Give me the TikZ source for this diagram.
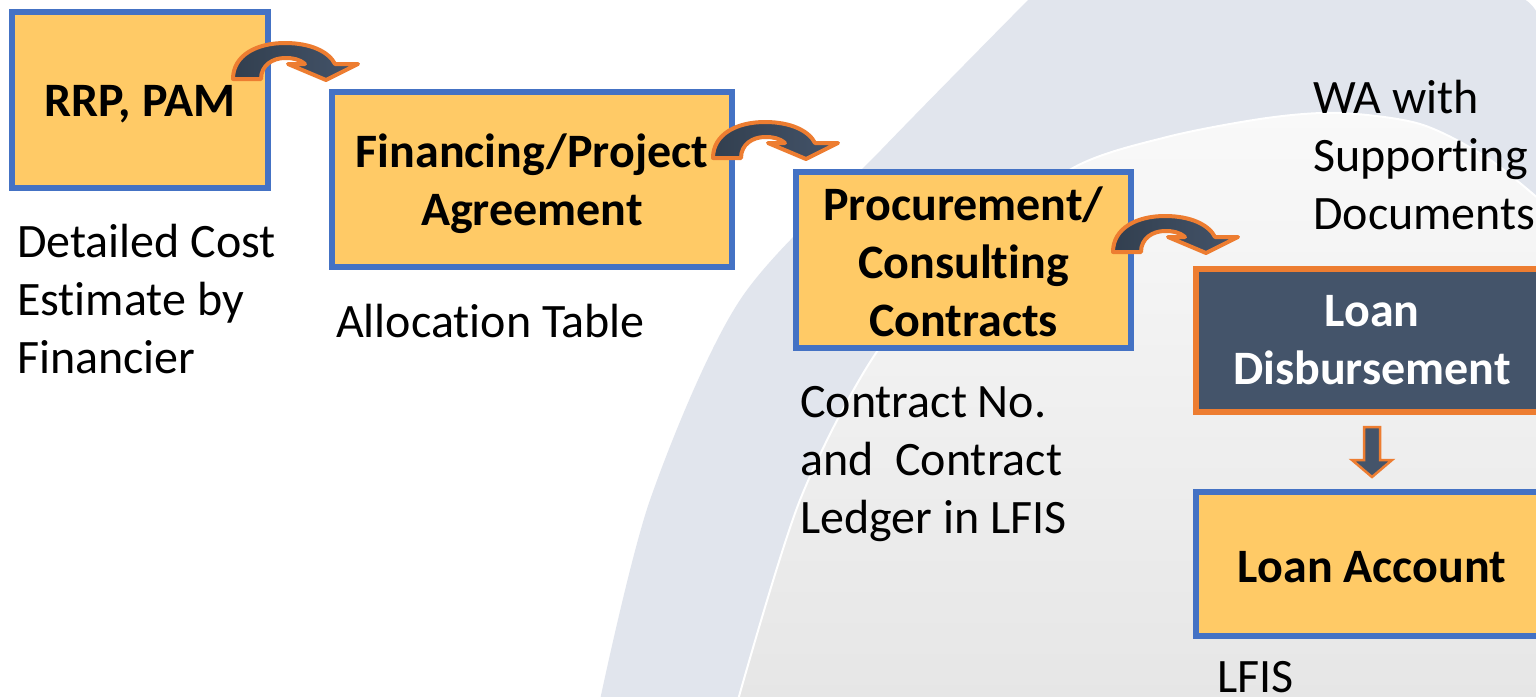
\documentclass[tikz,border=0pt]{standalone}
\usepackage{fontspec}
\setmainfont{Carlito}[Ligatures=NoCommon]
\definecolor{boxyellow}{RGB}{255,202,102}
\definecolor{boxblue}{RGB}{68,114,196}
\definecolor{accorange}{RGB}{237,125,49}
\definecolor{darkslate}{RGB}{68,84,106}
\definecolor{darkslateb}{RGB}{50,63,79}
\definecolor{outerbg}{RGB}{225,229,237}
\definecolor{innertop}{RGB}{249,249,249}
\definecolor{innerbot}{RGB}{230,230,230}
\tikzset{
  ybox/.style={draw=boxblue, fill=boxyellow, line width=5.5pt, inner sep=0pt},
  dbox/.style={draw=accorange, fill=darkslate, line width=5.5pt, inner sep=0pt},
  btext/.style={inner sep=0pt, font=\bfseries, align=center, text=black},
  wtext/.style={inner sep=0pt, font=\bfseries, align=center, text=white},
  note/.style={anchor=base west, inner sep=0pt, align=left},
  curvearr/.pic={
    \shadedraw[left color=darkslateb, right color=darkslate, draw=accorange, line width=4pt, line join=round]
      (0,0) .. controls (0,-24) and (24,-36) .. (52,-36)
      .. controls (78,-36) and (96,-27) .. (102,-15)
      -- (125,-15) -- (93,1) -- (55,-15) -- (72,-15)
      .. controls (66,-20) and (60,-21) .. (52,-21)
      .. controls (40,-21) and (28,-14) .. (28,0) -- cycle;
  },
  downarr/.style={fill=darkslate, draw=accorange, line width=2.5pt, line join=miter}
}
\begin{document}
\begin{tikzpicture}[x=1pt, y=-1pt]
\fontsize{48}{58}\selectfont
\useasboundingbox (0,0) rectangle (1536,696);
\clip (0,0) rectangle (1536,696);
\fill[white] (0,0) rectangle (1536,696);
% background arcs
\fill[outerbg] plot[smooth] coordinates {(1030,-2) (881,150) (740,300) (650,500) (600,700)}
  -- (1540,700) -- (1540,18) .. controls (1535,8) and (1530,2) .. (1522,-2) -- cycle;
\shade[top color=innertop, bottom color=innerbot] plot[smooth] coordinates {(738,700) (800,500) (878,350) (975,245) (1073,168) (1167,137) (1267,118) (1340,113) (1420,124) (1486,157) (1540,200)}
  -- (1540,700) -- cycle;
\draw[white, line width=2pt] plot[smooth] coordinates {(738,700) (800,500) (878,350) (975,245) (1073,168) (1167,137) (1267,118) (1340,113) (1420,124) (1486,157) (1540,200)};
% boxes
\node[ybox, minimum width=256pt, minimum height=176pt] (b1) at (140,100) {};
\node[ybox, minimum width=400pt, minimum height=175pt] (b2) at (532,179.5) {};
\node[ybox, minimum width=335pt, minimum height=176pt] (b3) at (963.5,260) {};
\node[dbox, minimum width=352pt, minimum height=143pt] (b4) at (1372,340.5) {};
\node[ybox, minimum width=352pt, minimum height=144pt] (b5) at (1372,564) {};
\node[btext] (t1) at ([yshift=-4pt]b1.center) {RRP, PAM};
\node[btext] (t2) at ([yshift=-4pt]b2.center) {Financing/Project\\Agreement};
\node[btext] (t3) at ([yshift=-2pt]b3.center) {Procurement/\\Consulting\\Contracts};
\node[wtext] (t4) at (b4.center) {Loan\\Disbursement};
\node[btext] (t5) at ([yshift=-3pt]b5.center) {Loan Account};
% notes (anchored at the baseline of their last line)
\node[note] (n1) at (17,373) {Detailed Cost\\Estimate by\\Financier};
\node[note] (n2) at (336,337) {Allocation Table};
\node[note] (n3) at (800,533) {Contract No.\\and~ Contract\\Ledger in LFIS};
\node[note] (n4) at (1313,229) {WA with\\Supporting\\Documents};
\node[note] (n5) at (1217,692) {LFIS};
% curved arrows
\coordinate (a1) at (233,79);
\coordinate (a2) at (713,158);
\coordinate (a3) at (1113,252);
\pic at (a1) {curvearr};
\pic at (a2) {curvearr};
\pic at (a3) {curvearr};
% down arrow
\coordinate (d1) at (1372,427);
\coordinate (d2) at (1372,477);
\filldraw[downarr] (d1) ++(-8,0) -- ++(16,0) -- ++(0,33) -- ++(12,0) -- (d2) -- ++(-20,-17) -- ++(12,0) -- cycle;
\end{tikzpicture}
\end{document}
